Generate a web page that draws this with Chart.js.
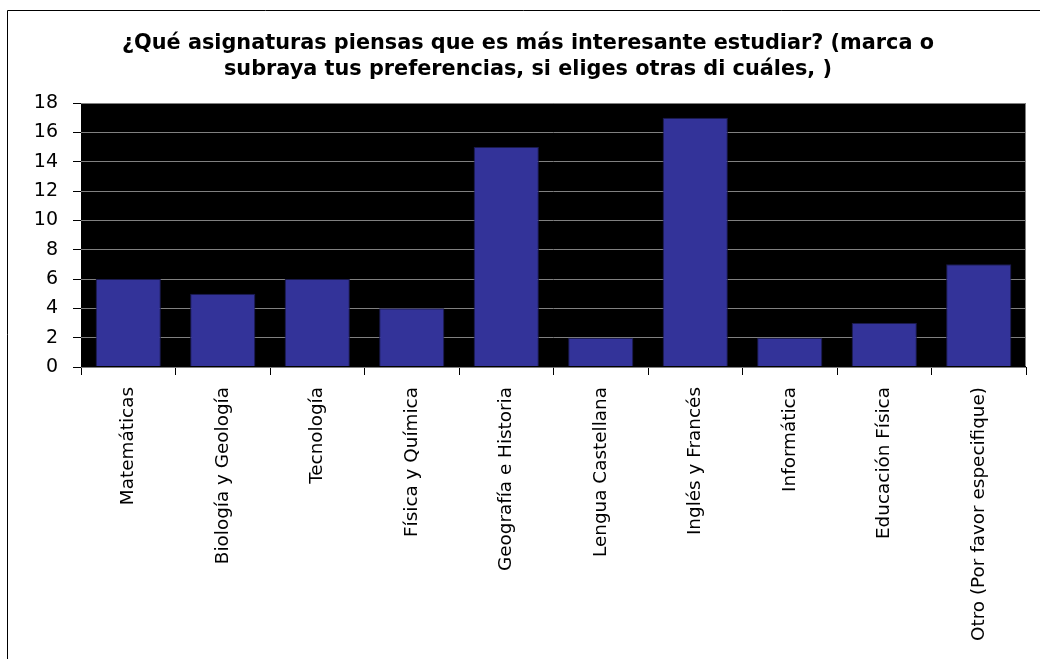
<!DOCTYPE html>
<html><head><meta charset="utf-8">
<script src="https://cdn.jsdelivr.net/npm/chart.js@4"></script>
<style>html,body{margin:0;padding:0;background:#fff;}#wrap{width:1040px;height:659px;position:relative;}</style>
</head><body><div id="wrap"><canvas id="c" width="1040" height="659"></canvas></div>
<script>
const titleLines = ["¿Qué asignaturas piensas que es más interesante estudiar? (marca o", "subraya tus preferencias, si eliges otras di cuáles, )"];
const categories = ["Matemáticas", "Biología y Geología", "Tecnología", "Física y Química", "Geografía e Historia", "Lengua Castellana", "Inglés y Francés", "Informática", "Educación Física", "Otro (Por favor especifique)"];
const values = [6, 5, 6, 4, 15, 2, 17, 2, 3, 7];
const yTicks = [0, 2, 4, 6, 8, 10, 12, 14, 16, 18];

const bgPlugin = {
  id: 'bg',
  beforeDraw(chart) {
    const ctx = chart.ctx, a = chart.chartArea;
    ctx.save();
    ctx.fillStyle = '#fff';
    ctx.fillRect(0, 0, chart.width, chart.height);
    ctx.strokeStyle = '#000';
    ctx.lineWidth = 1;
    ctx.beginPath();
    ctx.moveTo(7.5, chart.height);
    ctx.lineTo(7.5, 10.5);
    ctx.lineTo(chart.width, 10.5);
    ctx.stroke();
    ctx.fillStyle = '#000';
    ctx.fillRect(a.left, a.top, a.right - a.left, a.bottom - a.top);
    ctx.restore();
  },
  afterDatasetsDraw(chart) {
    const ctx = chart.ctx, a = chart.chartArea;
    ctx.save();
    ctx.strokeStyle = '#808080';
    ctx.lineWidth = 1;
    ctx.beginPath();
    ctx.moveTo(a.left, a.top + 0.5);
    ctx.lineTo(a.right - 0.5, a.top + 0.5);
    ctx.lineTo(a.right - 0.5, a.bottom);
    ctx.stroke();
    ctx.strokeStyle = '#000';
    ctx.beginPath();
    ctx.moveTo(a.left, a.bottom - 0.5);
    ctx.lineTo(a.right, a.bottom - 0.5);
    ctx.stroke();
    ctx.restore();
  }
};

new Chart(document.getElementById('c'), {
  type: 'bar',
  data: {
    labels: categories,
    datasets: [{
      data: values,
      backgroundColor: '#333399',
      borderColor: '#1a1a4d',
      borderWidth: 1,
      barPercentage: 0.69,
      categoryPercentage: 1.0
    }]
  },
  options: {
    responsive: false,
    animation: false,
    devicePixelRatio: 1,
    layout: { padding: { left: 30, right: 14, top: 0, bottom: 0 } },
    plugins: {
      legend: { display: false },
      tooltip: { enabled: false },
      title: {
        display: true,
        text: titleLines,
        color: '#000',
        font: { family: 'DejaVu Sans', size: 20.8, weight: 'bold', lineHeight: 1.25 },
        padding: { top: 31, bottom: 20 }
      }
    },
    scales: {
      x: {
        grid: { offset: true, drawOnChartArea: false, drawTicks: true, tickLength: 8, tickColor: '#000', color: '#000' },
        border: { display: false },
        ticks: {
          color: '#000',
          minRotation: 90, maxRotation: 90,
          padding: 12,
          autoSkip: false,
          font: { family: 'DejaVu Sans', size: 18.4 }
        },
        afterFit(scale) { scale.height = 659 - 367; }
      },
      y: {
        min: 0, max: 18,
        afterBuildTicks(scale) { scale.ticks = yTicks.map(v => ({ value: v })); },
        grid: { color: '#808080', tickColor: '#000', tickLength: 8, lineWidth: 1 },
        border: { display: false },
        ticks: {
          color: '#000',
          padding: 15,
          font: { family: 'DejaVu Sans', size: 19 }
        },
        afterFit(scale) { scale.width = 51; }
      }
    }
  },
  plugins: [bgPlugin]
});
</script></body></html>
